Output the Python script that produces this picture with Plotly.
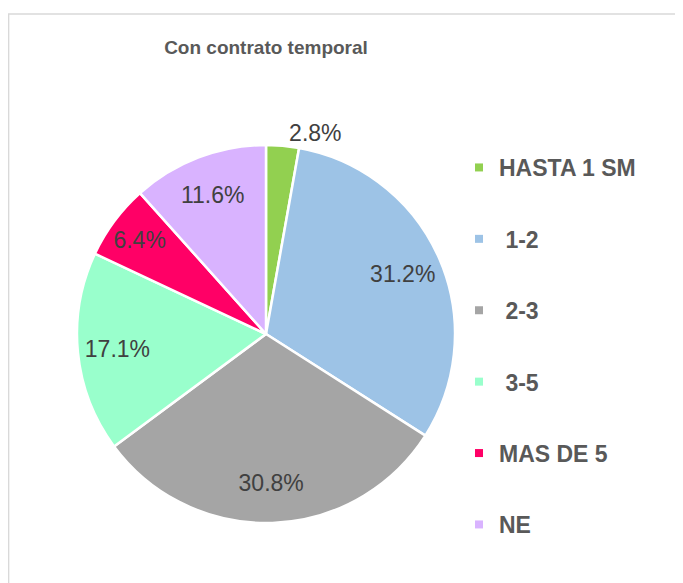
import plotly.graph_objects as go

categories = ["HASTA 1 SM", " 1-2", " 2-3", " 3-5", "MAS DE 5", "NE"]
values = [2.8, 31.2, 30.8, 17.1, 6.4, 11.6]
colors = ["#92D050", "#9DC3E6", "#A5A5A5", "#99FFCC", "#FF0066", "#D9B3FF"]
title_text = "Con contrato temporal"

# page body has an 8px margin; figure fills the rest of the 683x583 window
OFF = 8
W, H = 683 - OFF, 583 - OFF
cx, cy, r = 266 - OFF, 334 - OFF, 189

FONT = "Liberation Sans, Arial, sans-serif"
TXT = "#404040"
dom = dict(x=[(cx - r) / W, (cx + r) / W], y=[(H - cy - r) / H, (H - cy + r) / H])
labels = [c.strip() for c in categories]

fig = go.Figure()
# filled pie
fig.add_trace(go.Pie(
    labels=labels, values=values, sort=False, direction="clockwise", rotation=0,
    marker=dict(colors=colors, line=dict(color="white", width=2.5)),
    textinfo="none", showlegend=False, domain=dom, hoverinfo="label+percent",
))
# transparent ring carrying the percentage labels at ~0.79 r
fig.add_trace(go.Pie(
    labels=labels, values=values, sort=False, direction="clockwise", rotation=0,
    hole=0.58,
    marker=dict(colors=["rgba(0,0,0,0)"] * len(values), line=dict(width=0)),
    texttemplate="%{percent:.1%}",
    textposition=["outside", "inside", "inside", "inside", "inside", "inside"],
    insidetextorientation="horizontal",
    textfont=dict(family=FONT, size=23, color=TXT),
    showlegend=False, domain=dom, hoverinfo="skip",
))

for i, (cat, col) in enumerate(zip(categories, colors)):
    name = cat.replace(" ", "\u00a0", 1) if cat.startswith(" ") else cat
    fig.add_trace(go.Scatter(
        x=[None], y=[None], mode="markers",
        marker=dict(symbol="square", size=8, color=col),
        name=f"<b>{name}</b>", legendgroup=f"g{i}", showlegend=True,
    ))

fig.update_layout(
    width=W, height=H,
    margin=dict(l=0, r=0, t=0, b=0),
    paper_bgcolor="white", plot_bgcolor="white",
    xaxis=dict(visible=False), yaxis=dict(visible=False),
    title=dict(text=f"<b>{title_text}</b>", x=cx / W, xanchor="center",
               y=1 - (47 - OFF) / H, yanchor="middle",
               font=dict(family=FONT, size=19, color="#595959")),
    legend=dict(x=(459 - OFF) / W, xanchor="left", y=1 - 138 / H, yanchor="top",
                font=dict(family=FONT, size=23, color="#595959"),
                tracegroupgap=38.5, itemclick=False, bgcolor="rgba(0,0,0,0)"),
    shapes=[dict(type="rect", xref="paper", yref="paper",
                 x0=0.6 / W, x1=1.05, y0=-0.05, y1=1 - (14 - OFF) / H,
                 line=dict(color="#D9D9D9", width=1.5), fillcolor="rgba(0,0,0,0)",
                 layer="below")],
)

fig.write_html("out.html")
